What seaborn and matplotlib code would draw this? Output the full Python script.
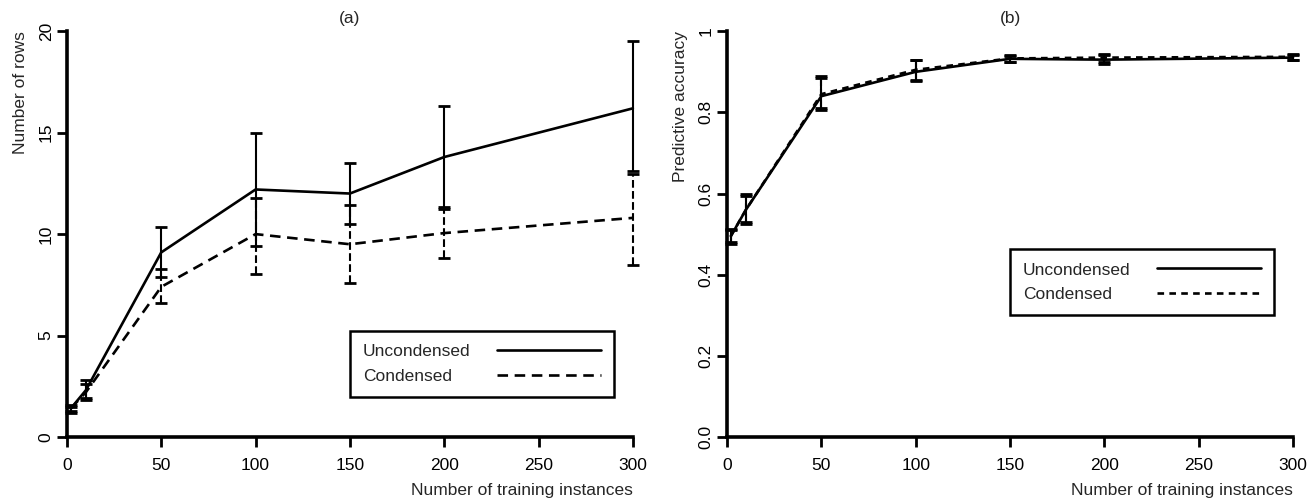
import matplotlib
matplotlib.use('Agg')
from matplotlib import pyplot as plt
import pandas as pd
import numpy as np
import seaborn as sns

sns.set_style('ticks')
plt.rcParams['font.family'] = ['Liberation Sans', 'DejaVu Sans']

#################################################################################
# data

n_train = [2, 10, 50, 100, 150, 200, 300]
series_names = ['Uncondensed', 'Condensed']

# (a) number of rows
rows_uncond = [1.4, 2.3, 9.1, 12.2, 12.0, 13.8, 16.2]
rows_uncond_lo = [1.2, 1.8, 7.9, 9.4, 10.5, 11.35, 13.1]
rows_uncond_hi = [1.6, 2.8, 10.35, 15.0, 13.5, 16.3, 19.5]
rows_cond = [1.4, 2.2, 7.4, 10.0, 9.5, 10.05, 10.8]
rows_cond_lo = [1.3, 1.9, 6.6, 8.05, 7.6, 8.8, 8.5]
rows_cond_hi = [1.5, 2.6, 8.3, 11.8, 11.45, 11.25, 12.95]

# (b) predictive accuracy
acc_uncond = [0.495, 0.56, 0.84, 0.90, 0.932, 0.93, 0.935]
acc_uncond_lo = [0.476, 0.524, 0.806, 0.878, 0.924, 0.92, 0.930]
acc_uncond_hi = [0.513, 0.60, 0.89, 0.93, 0.942, 0.944, 0.942]
acc_cond = [0.495, 0.56, 0.845, 0.905, 0.933, 0.935, 0.937]
acc_cond_lo = [0.48, 0.53, 0.81, 0.88, 0.925, 0.925, 0.93]
acc_cond_hi = [0.51, 0.595, 0.884, 0.928, 0.94, 0.942, 0.943]

x_ticks = [0, 50, 100, 150, 200, 250, 300]
rows_ticks = [0, 5, 10, 15, 20]
acc_ticks = [0.0, 0.2, 0.4, 0.6, 0.8, 1.0]
acc_tick_labels = ['0.0', '0.2', '0.4', '0.6', '0.8', '1']

FS = 12.5
DPI = 100


def long_frame(unc, cond):
    return pd.DataFrame({'n': n_train * 2,
                         'value': list(unc) + list(cond),
                         'series': [series_names[0]] * len(n_train) + [series_names[1]] * len(n_train)})


def draw_panel(fig, ax, unc, unc_lo, unc_hi, cond, cond_lo, cond_hi, dash, legend_anchor):
    df = long_frame(unc, cond)
    sns.lineplot(data=df, x='n', y='value', style='series', style_order=series_names,
                 dashes={series_names[0]: '', series_names[1]: dash},
                 color='black', linewidth=1.9, ax=ax, clip_on=False)

    # error bars: solid for uncondensed, dashed for condensed
    for vals, lo, hi, ls in [(unc, unc_lo, unc_hi, '-'), (cond, cond_lo, cond_hi, '--')]:
        vals = np.array(vals)
        err = [vals - np.array(lo), np.array(hi) - vals]
        eb = ax.errorbar(n_train, vals, yerr=err, fmt='none', ecolor='black',
                         elinewidth=1.5, capsize=4.5, capthick=2, clip_on=False)
        eb[2][0].set_linestyle(ls)
        eb[2][0].set_clip_on(False)
        for c in eb[1]:
            c.set_clip_on(False)

    handles, labels = ax.get_legend_handles_labels()
    if ax.get_legend():
        ax.get_legend().remove()
    leg = ax.legend(handles[-2:], labels[-2:], markerfirst=False, loc='lower left',
                    bbox_to_anchor=legend_anchor, fontsize=FS,
                    handlelength=6.0, handletextpad=1.5, borderpad=0.75,
                    labelspacing=0.55, fancybox=False, framealpha=1,
                    edgecolor='black', borderaxespad=0)
    leg.get_frame().set_linewidth(1.8)

    # left-aligned labels with the line samples in one column:
    # widen the gap after the shorter label
    renderer = fig.canvas.get_renderer()
    widths = [t.get_window_extent(renderer).width for t in leg.get_texts()]
    col = leg._legend_handle_box.get_children()[0]
    for item, w in zip(col.get_children(), widths):
        item.sep += (max(widths) - w) * 72.0 / DPI

    ax.set_xlim(0, 300)
    ax.set_xticks(x_ticks)
    sns.despine(ax=ax)
    for s in ['left', 'bottom']:
        ax.spines[s].set_linewidth(2.6)
        ax.spines[s].set_color('black')
    ax.tick_params(axis='both', length=7, width=2, labelsize=FS, colors='black')
    ax.tick_params(axis='x', pad=8)
    ax.tick_params(axis='y', labelrotation=90, pad=2.5)
    for lab in ax.get_yticklabels():
        lab.set_va('center')
    ax.set_xlabel('Number of training instances', fontsize=FS, loc='right', labelpad=7)


#################################################################################
# plotting

fig = plt.figure(figsize=(13.1, 5.04), dpi=DPI)
ax1 = fig.add_axes([0.0511, 0.133, 0.432, 0.805])
ax2 = fig.add_axes([0.555, 0.133, 0.432, 0.805])

draw_panel(fig, ax1, rows_uncond, rows_uncond_lo, rows_uncond_hi,
           rows_cond, rows_cond_lo, rows_cond_hi, (4, 2.5), (0.5, 0.098))
ax1.set_ylim(0, 20)
ax1.set_yticks(rows_ticks)
ax1.set_ylabel('Number of rows', fontsize=FS, loc='top', labelpad=8)
ax1.set_title('(a)', fontsize=FS, pad=6)

draw_panel(fig, ax2, acc_uncond, acc_uncond_lo, acc_uncond_hi,
           acc_cond, acc_cond_lo, acc_cond_hi, (2.5, 2), (0.5, 0.30))
ax2.set_ylim(0, 1)
ax2.set_yticks(acc_ticks)
ax2.set_yticklabels(acc_tick_labels)
ax2.set_ylabel('Predictive accuracy', fontsize=FS, loc='top', labelpad=8)
ax2.set_title('(b)', fontsize=FS, pad=6)

plt.savefig('out.png', dpi=DPI)
